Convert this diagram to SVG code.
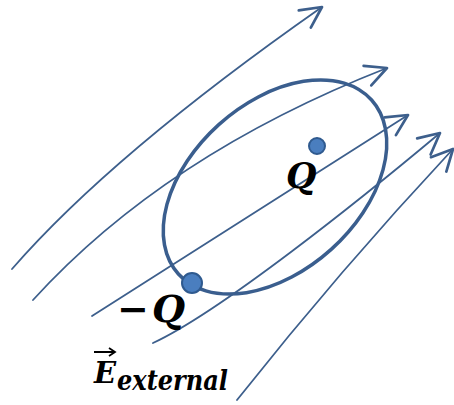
<svg xmlns="http://www.w3.org/2000/svg" width="454" height="405" viewBox="0 0 454 405">
<style>
.field{fill:none;stroke:#3d5f8c;stroke-width:1.8;stroke-linecap:round}
.loop{fill:none;stroke:#3a5e8e;stroke-width:3.5}
.charge{fill:#4a7ebf;stroke:#2f5a8f;stroke-width:2}
.lbl{font-family:"DejaVu Serif","Liberation Serif",serif;font-weight:bold;font-style:italic;fill:#000}
</style>
<defs>
<marker id="ah" markerUnits="userSpaceOnUse" markerWidth="30" markerHeight="30" refX="0" refY="0" viewBox="-16 -10 20 20" orient="auto">
<path d="M-14,-7 L0,0 L-14,7" fill="none" stroke="#3d5f8c" stroke-width="1.8" stroke-linecap="round" stroke-linejoin="round"/>
</marker>
</defs>
<g id="connectors">
<path class="field" d="M12,269 Q112,154 322,7" marker-end="url(#ah)"/>
<path class="field" d="M33,300 Q165,155 387,68" marker-end="url(#ah)"/>
<path class="field" d="M92,316 L408,115" marker-end="url(#ah)"/>
<path class="field" d="M153,343 C220,312 360,200 440,133" marker-end="url(#ah)"/>
<path class="field" d="M237,400 Q340,270 453,149" marker-end="url(#ah)"/>
</g>
<g id="loop">
<ellipse class="loop" cx="275" cy="187" rx="130" ry="84" transform="rotate(-42 275 187)"/>
</g>
<g id="charge-neg">
<circle class="charge" cx="192" cy="283" r="10"/>
<text class="lbl" x="117" y="322" font-size="38"><tspan font-size="38" font-style="normal">−</tspan><tspan x="152">Q</tspan></text>
</g>
<g id="charge-pos">
<circle class="charge" cx="317" cy="146" r="8"/>
<text class="lbl" x="286" y="188" font-size="35">Q</text>
</g>
<g id="field-label">
<line x1="94" y1="352" x2="114" y2="352" stroke="#000" stroke-width="2"/>
<path d="M109,348 L115,352 L109,356" fill="none" stroke="#000" stroke-width="1.8"/>
<text class="lbl" x="94" y="383" font-size="29">E</text>
<text class="lbl" x="117" y="390" font-size="27" textLength="111" lengthAdjust="spacingAndGlyphs">external</text>
</g>
</svg>
